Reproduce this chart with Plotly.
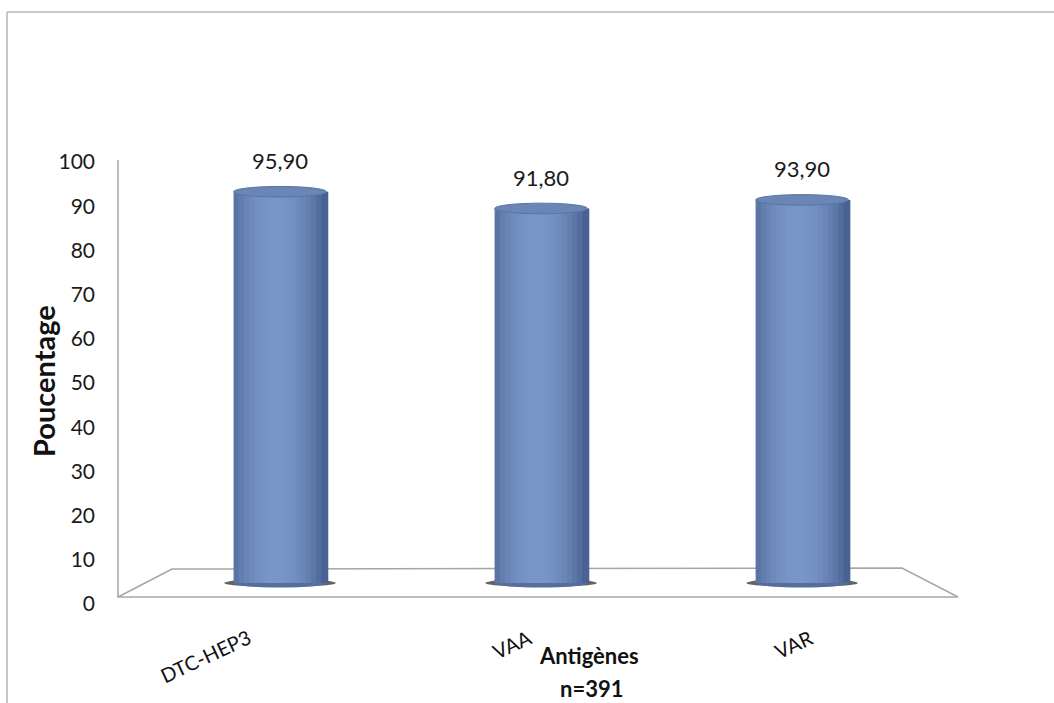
import plotly.graph_objects as go

# Vaccination coverage by antigen (n=391)
antigens = ["DTC-HEP3", "VAA", "VAR"]
coverage = [95.90, 91.80, 93.90]
y_ticks = [0, 10, 20, 30, 40, 50, 60, 70, 80, 90, 100]

# plot area in pixels
W, H = 1054, 703
L, R, T, B = 120, 960, 140, 610


def px(x):
    return (x - L) / (R - L)


def py(y):
    return (B - y) / (B - T)


xs = list(range(len(antigens)))
bar_w = 0.356
n_strips = 18
dark = (58, 82, 130)
light = (122, 150, 200)


def shade(t):
    s = max(0.0, 1 - ((t - 0.45) / 0.6) ** 2)
    c = [round(d + (l - d) * s) for d, l in zip(dark, light)]
    return f"rgb({c[0]},{c[1]},{c[2]})"


fig = go.Figure()

# carrier trace so the percentage axis is drawn
fig.add_trace(go.Scatter(x=[xs[0]], y=[y_ticks[0]], mode="markers",
                         marker=dict(opacity=0), hoverinfo="skip", showlegend=False))

# cylinder bodies: vertical strips with shading
strip_w = bar_w / n_strips
for k in range(n_strips):
    t = (k + 0.5) / n_strips
    fig.add_trace(go.Bar(
        x=xs, y=coverage, yaxis="y2",
        width=strip_w * 1.35, offset=-bar_w / 2 + k * strip_w,
        marker=dict(color=shade(t), line=dict(width=0)),
        hoverinfo="skip", showlegend=False,
    ))

shapes = []
# frame around the chart
shapes.append(dict(type="line", xref="paper", yref="paper",
                   x0=px(7), x1=px(1060), y0=py(12), y1=py(12),
                   line=dict(color="#B4B4B4", width=1.5)))
shapes.append(dict(type="line", xref="paper", yref="paper",
                   x0=px(7), x1=px(7), y0=py(12), y1=py(705),
                   line=dict(color="#B4B4B4", width=1.5)))

# vertical wall edge and floor
floor_pts = [(118, 160), (118, 597), (958, 597), (902, 568), (172, 569), (118, 597)]
path = "M " + " L ".join(f"{px(x):.5f},{py(y):.5f}" for x, y in floor_pts)
shapes.append(dict(type="path", xref="paper", yref="paper", path=path,
                   line=dict(color="#A6A6A6", width=1.5), layer="below"))

for x, v in zip(xs, coverage):
    # shadow at base
    shapes.append(dict(type="circle", xref="x", yref="y2",
                       x0=x - bar_w * 0.6, x1=x + bar_w * 0.6, y0=-1.0, y1=1.0,
                       fillcolor="rgba(70,70,70,0.85)", line=dict(width=0), layer="below"))
    # rounded base of the cylinder
    shapes.append(dict(type="circle", xref="x", yref="y2",
                       x0=x - bar_w / 2, x1=x + bar_w / 2, y0=-1.1, y1=1.1,
                       fillcolor="rgb(84,110,158)", line=dict(width=0), layer="below"))
    # top cap
    shapes.append(dict(type="circle", xref="x", yref="y2",
                       x0=x - bar_w / 2, x1=x + bar_w / 2, y0=v - 1.3, y1=v + 1.3,
                       fillcolor="rgb(106,134,182)", line=dict(color="rgb(90,116,164)", width=1),
                       layer="above"))

annotations = []
for x, v in zip(xs, coverage):
    annotations.append(dict(x=x, y=v, xref="x", yref="y2", yshift=31,
                            text=f"{v:.2f}".replace(".", ","), showarrow=False,
                            font=dict(family="Lato", size=22, color="#1a1a1a")))

# category labels, slanted
for i, (x, name) in enumerate(zip(xs, antigens)):
    annotations.append(dict(x=x, y=py(622), xref="x", yref="paper",
                            xanchor="right", yanchor="top", xshift=(i - 1) * 20 - 3,
                            text=name, textangle=-25, showarrow=False,
                            font=dict(family="Lato", size=20, color="#111")))

annotations.append(dict(x=px(43), y=py(381), xref="paper", yref="paper",
                        xanchor="center", yanchor="middle",
                        text="<b>Poucentage</b>", textangle=-90, showarrow=False,
                        font=dict(family="Lato", size=29, color="#111")))
annotations.append(dict(x=px(589), y=py(655), xref="paper", yref="paper",
                        xanchor="center", yanchor="middle",
                        text="<b>Antigènes</b>", showarrow=False,
                        font=dict(family="Lato", size=22, color="#111")))
annotations.append(dict(x=px(591), y=py(688), xref="paper", yref="paper",
                        xanchor="center", yanchor="middle",
                        text="<b>n=391</b>", showarrow=False,
                        font=dict(family="Lato", size=22, color="#111")))

fig.update_layout(
    width=W, height=H,
    margin=dict(l=L, r=W - R, t=T, b=H - B),
    paper_bgcolor="white", plot_bgcolor="white",
    barmode="overlay",
    showlegend=False,
    xaxis=dict(range=[-0.613, 2.605], tickmode="array", tickvals=xs, showticklabels=False,
               showgrid=False, zeroline=False, showline=False, ticks=""),
    yaxis=dict(range=[-1.36, 104.98], tickmode="array", tickvals=y_ticks,
               showgrid=False, zeroline=False, showline=False, ticks="",
               tickfont=dict(family="Lato", size=21, color="#1a1a1a"),
               ticklabelstandoff=24),
    yaxis2=dict(range=[-6.62, 108.58], overlaying="y", visible=False),
    shapes=shapes,
    annotations=annotations,
)

fig.write_html("out.html")
